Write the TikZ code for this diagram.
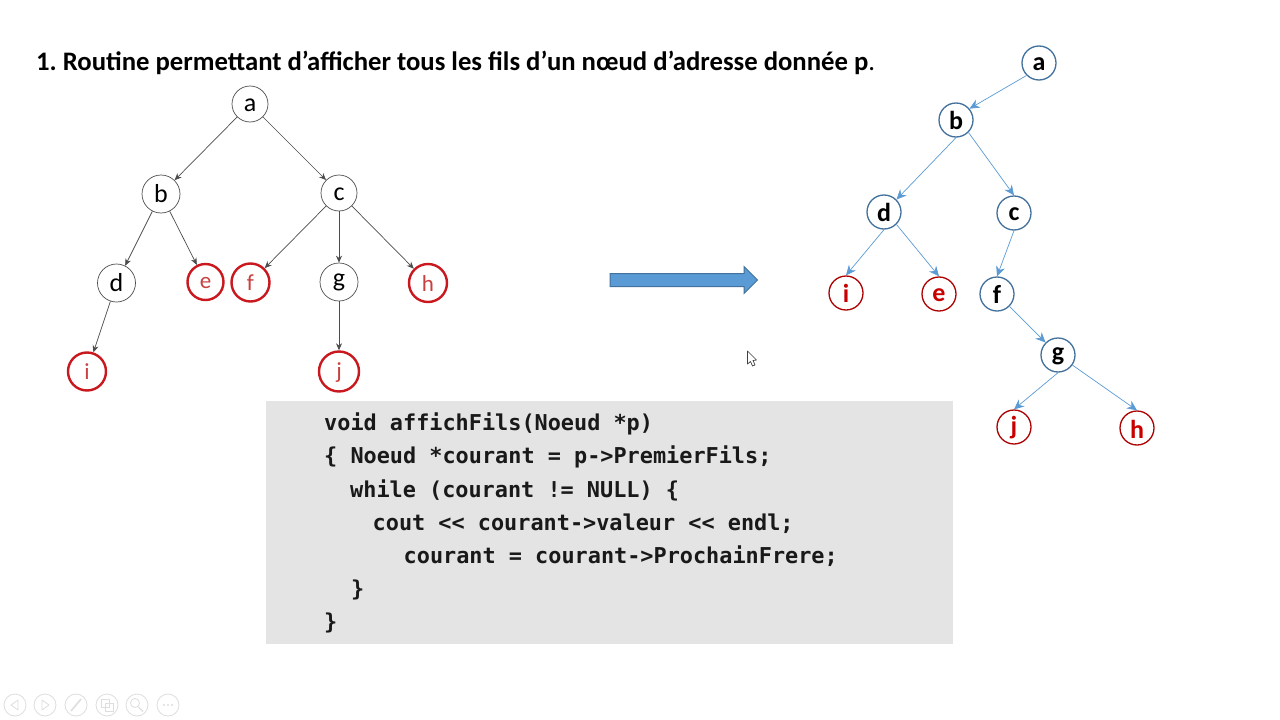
\documentclass[tikz,border=0pt]{standalone}
\usepackage{fontspec}
\setmainfont{Carlito}
\newfontfamily\codefont{DejaVu Sans Mono}
\usetikzlibrary{arrows.meta}
\definecolor{redc}{HTML}{C9181E}
\definecolor{redt}{HTML}{C8403F}
\definecolor{redb}{HTML}{C00000}
\definecolor{bluec}{HTML}{41719C}
\definecolor{bluee}{HTML}{5B9BD5}
\definecolor{navc}{HTML}{DEDEDE}
\definecolor{codebg}{HTML}{E4E4E4}
\newcommand\lowlab[1]{\setbox0\hbox{#1}\dimen0=\ht0 \advance\dimen0 2pt \ht0=\dimen0 \box0}
\tikzset{
  lbase/.style={circle,inner sep=0pt,font=\fontsize{26}{26}\selectfont},
  lblack/.style={lbase,draw=black!70,line width=0.7pt,fill=white,text=black},
  lred/.style={lbase,draw=redc,line width=2.4pt,fill=white,text=redt,font=\fontsize{23}{23}\selectfont},
  rbase/.style={circle,inner sep=0pt,minimum size=34pt,line width=1.3pt,fill=white,font=\bfseries\fontsize{26}{26}\selectfont},
  rblack/.style={rbase,draw=bluec,text=black},
  rred/.style={rbase,draw=redb!90!black,text=redb!85!red},
  ledge/.style={draw=black!70,line width=0.7pt,-{Stealth[length=7pt,width=6pt]}},
  redge/.style={draw=bluee,line width=0.7pt,-{Stealth[length=10pt,width=9pt]}},
  codeline/.style={anchor=base west,inner sep=0pt,text=black!90,font=\codefont\bfseries\fontsize{21.85}{22}\selectfont},
  navring/.style={draw=navc,line width=0.8pt},
}
\begin{document}
\begin{tikzpicture}[x=1pt,y=-1pt]
\useasboundingbox (0,0) rectangle (1280,720);
\fill[white] (0,0) rectangle (1280,720);
\node[anchor=base west,inner sep=0pt,font=\fontsize{26.7}{27}\selectfont] (title) at (36,70) {\textbf{1.\hspace{-2pt} Routine permettant d’afficher tous les fils d’un nœud d’adresse donnée p}.};

% left tree
\node[lblack,minimum size=36pt] (la) at (250,104) {\lowlab{a}};
\node[lblack,minimum size=38pt] (lb) at (161,194) {b};
\node[lblack,minimum size=36pt] (lc) at (339,193) {\lowlab{c}};
\node[lblack,minimum size=38pt] (ld) at (116.5,283) {d};
\node[lred,minimum size=36pt] (le) at (205.5,282) {\lowlab{e}};
\node[lred,minimum size=38pt] (lf) at (250.5,282.5) {f};
\node[lblack,minimum size=38pt] (lg) at (339,282) {g};
\node[lred,minimum size=38pt] (lh) at (428,283) {\lowlab{h}};
\node[lred,minimum size=38pt] (li) at (87,371.5) {i};
\node[lred,minimum size=40pt] (lj) at (339,371.5) {\lowlab{j}};
\draw[ledge] (la) -- (lb);
\draw[ledge] (la) -- (lc);
\draw[ledge] (lb) -- (ld);
\draw[ledge] (lb) -- (le);
\draw[ledge] (lc) -- (lf);
\draw[ledge] (lc) -- (lg);
\draw[ledge] (lc) -- (lh);
\draw[ledge] (ld) -- (li);
\draw[ledge] (lg) -- (lj);

% right tree
\node[rblack] (ra) at (1039,63) {\lowlab{a}};
\node[rblack] (rb) at (956,120) {b};
\node[rblack] (rd) at (884,212) {d};
\node[rblack] (rc) at (1014,213) {\lowlab{c}};
\node[rred] (ri) at (846,293) {i};
\node[rred] (re) at (939,294) {\lowlab{e}};
\node[rblack] (rf) at (997,294) {f};
\node[rblack] (rg) at (1058,355) {\lowlab{g}};
\node[rred] (rj) at (1014,427) {\lowlab{j}};
\node[rred] (rh) at (1137,428) {\lowlab{h}};
\draw[redge] (ra.225) -- (rb.40);
\draw[redge] (rb.south) -- (rd.45);
\draw[redge] (rb.-45) -- (rc.north);
\draw[redge] (rd.south) -- (ri.north);
\draw[redge] (rd.-45) -- (re.north);
\draw[redge] (rc.south) -- (rf.north);
\draw[redge] (rf.-45) -- (rg.135);
\draw[redge] (rg.south) -- (rj.north);
\draw[redge] (rg.-35) -- (rh.north);

% block arrow
\draw[draw=bluec,fill=bluee,line width=1pt] (610,273.5) -- (744,273.5) -- (744,266.5) -- (757.5,280) -- (744,293.5) -- (744,286.5) -- (610,286.5) -- cycle;

% cursor
\draw[draw=black!75,fill=white,line width=0.7pt,line join=round] (747.5,351) -- (747.5,364) -- (750.5,361.5) -- (752.5,366) -- (755,365) -- (753,360.5) -- (756.5,360) -- cycle;

% code
\fill[fill=codebg] (266,401) rectangle (953,644);
\node[codeline] (c1) at (324,430) {void affichFils(Noeud *p)};
\node[codeline] (c2) at (324,463) {\{ Noeud *courant = p->PremierFils;};
\node[codeline] (c3) at (350,497) {while (courant != NULL) \{};
\node[codeline] (c4) at (372.5,530) {cout << courant->valeur << endl;};
\node[codeline] (c5) at (403.5,563) {courant = courant->ProchainFrere;};
\node[codeline] (c6) at (351,596) {\}};
\node[codeline] (c7) at (324,629) {\}};

% slideshow controls
\foreach \x in {15,45,76,107,137,168} \draw[navring] (\x,705) circle (11);
\draw[navring,line join=round] (18,700) -- (11,705) -- (18,710) -- cycle;
\draw[navring,line join=round] (42,700) -- (49,705) -- (42,710) -- cycle;
\draw[navring,line width=1.6pt] (71,711) -- (81,699);
\draw[navring] (101,699) rectangle (109,707) (105,703) rectangle (113,711);
\draw[navring] (135,703) circle (4.5);
\draw[navring,line width=1.4pt] (138.5,707) -- (143,711.5);
\foreach \x in {164,168,172} \fill[navc] (\x,705) circle (1.2);
\end{tikzpicture}
\end{document}
